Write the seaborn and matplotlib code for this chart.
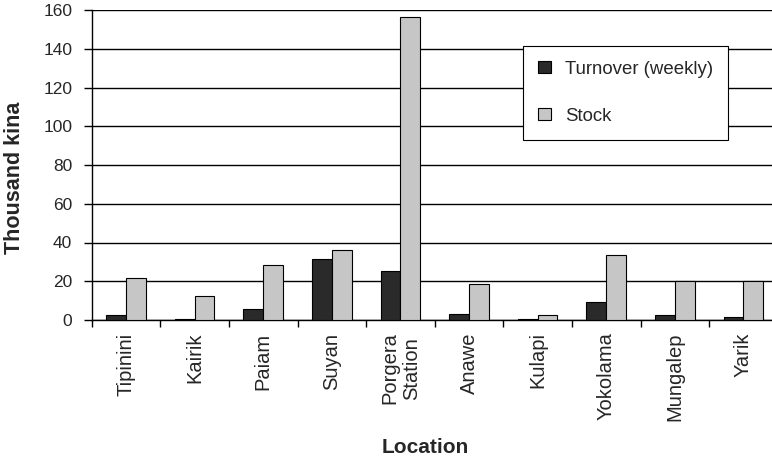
import matplotlib
matplotlib.use("Agg")
import matplotlib.pyplot as plt
import seaborn as sns
import pandas as pd
import numpy as np
from matplotlib.ticker import MultipleLocator, FixedLocator

locations = ["Tipinini", "Kairik", "Paiam", "Suyan", "Porgera\nStation",
             "Anawe", "Kulapi", "Yokolama", "Mungalep", "Yarik"]
turnover = [2.5, 0.7, 5.7, 31.7, 25.2, 3.3, 0.5, 9.3, 2.6, 1.7]
stock = [21.5, 12.4, 28.4, 36.0, 156.5, 18.6, 2.6, 33.4, 20.0, 20.0]
series_names = ["Turnover (weekly)", "Stock"]

df = pd.DataFrame({
    "Location": locations * 2,
    "Value": turnover + stock,
    "Series": [series_names[0]] * len(locations) + [series_names[1]] * len(locations),
})

sns.set_style("white")
plt.rcParams['font.family'] = ['Liberation Sans', 'DejaVu Sans']

fig = plt.figure(figsize=(7.72, 4.57), dpi=100)
W, H = 772, 457
left_px, right_px, top_px, bot_px = 91.7, 777.7, 10, 320
ax = fig.add_axes([left_px / W, 1 - bot_px / H, (right_px - left_px) / W, (bot_px - top_px) / H])

palette = {series_names[0]: "#2a2a2a", series_names[1]: "#c6c6c6"}
sns.barplot(data=df, x="Location", y="Value", hue="Series", order=locations,
            hue_order=series_names, palette=palette, width=0.58, dodge=True,
            edgecolor="black", linewidth=0.8, saturation=1, ax=ax, zorder=3)

ax.set_xlim(-0.5, len(locations) - 0.5)
ax.set_ylim(0, 160)
ax.yaxis.set_major_locator(MultipleLocator(20))
ax.grid(axis="y", color="black", linewidth=1.0, zorder=0)
ax.set_axisbelow(True)

for s in ["top", "right"]:
    ax.spines[s].set_visible(False)
for s in ["left", "bottom"]:
    ax.spines[s].set_color("black")
    ax.spines[s].set_linewidth(1.0)

ax.tick_params(axis="y", which="major", direction="out", length=6, width=1,
               color="black", labelsize=12.5, pad=8, left=True)
ax.tick_params(axis="x", which="major", length=0, labelsize=14.5, pad=9)
ax.xaxis.set_minor_locator(FixedLocator(np.arange(-0.5, len(locations), 1.0)))
ax.tick_params(axis="x", which="minor", direction="out", length=5, width=1,
               color="black", bottom=True)
for lab in ax.get_xticklabels():
    lab.set_rotation(90)
    lab.set_va("top")
    lab.set_ha("center")

ax.set_ylabel("Thousand kina", fontsize=15.5, fontweight="bold")
ax.yaxis.label.set_va("center")
ax.yaxis.set_label_coords(-0.112, 0.458)
ax.set_xlabel("Location", fontsize=15, fontweight="bold")
ax.xaxis.label.set_va("baseline")
ax.xaxis.set_label_coords(0.486, -0.429)

leg = ax.legend(loc="upper left", bbox_to_anchor=(0.629, 0.884), frameon=True,
                fontsize=13.4, handlelength=0.7, handleheight=0.6, handletextpad=0.75,
                labelspacing=1.6, borderpad=0.8, borderaxespad=0, fancybox=False,
                edgecolor="black", framealpha=1)
leg.get_frame().set_linewidth(0.8)
leg.set_zorder(5)

fig.savefig("out.png", dpi=100)
